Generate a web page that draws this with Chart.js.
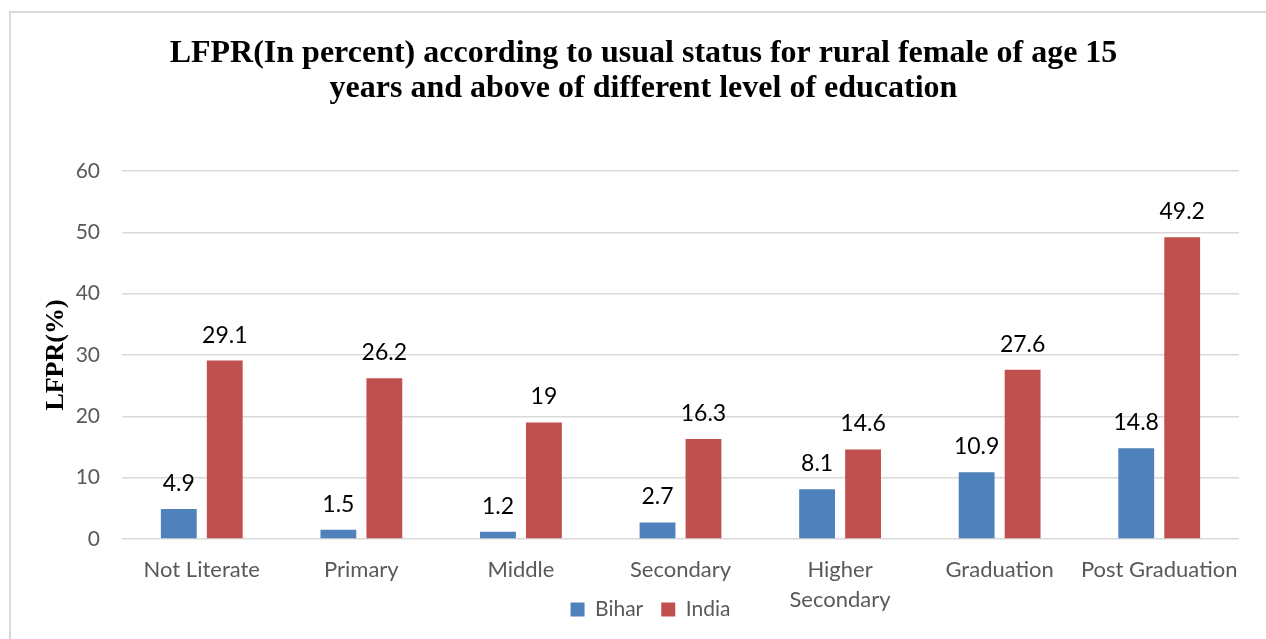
<!DOCTYPE html>
<html>
<head>
<meta charset="utf-8">
<script src="https://cdn.jsdelivr.net/npm/chart.js@4.4.1/dist/chart.umd.min.js"></script>
<style>
  html, body { margin: 0; padding: 0; background: #fff; }
  #wrap { position: relative; width: 1266px; height: 639px; }
</style>
</head>
<body>
<div id="wrap"><canvas id="c" width="1266" height="639"></canvas></div>
<script>
// Education levels and LFPR values (%)
const categories = ['Not Literate', 'Primary', 'Middle', 'Secondary', ['Higher', 'Secondary'], 'Graduation', 'Post Graduation'];
const bihar = [4.9, 1.5, 1.2, 2.7, 8.1, 10.9, 14.8];
const india = [29.1, 26.2, 19, 16.3, 14.6, 27.6, 49.2];
const yTicks = [0, 10, 20, 30, 40, 50, 60];

const SANS = 'Lato, "Noto Sans", sans-serif';
const SERIF = '"Liberation Serif", "Times New Roman", serif';

// Outer frame of the chart
const framePlugin = {
  id: 'frame',
  beforeDraw(chart) {
    const ctx = chart.ctx;
    ctx.save();
    ctx.fillStyle = '#fff';
    ctx.fillRect(0, 0, chart.width, chart.height);
    ctx.strokeStyle = '#d9d9d9';
    ctx.lineWidth = 2;
    ctx.strokeRect(10, 12, chart.width + 20, chart.height + 20);
    ctx.restore();
  }
};

// Let the category labels use the full height below the plot and
// tuck the legend up beside the second label line
const layoutTweak = {
  id: 'layoutTweak',
  afterLayout(chart) {
    const x = chart.scales.x;
    x.bottom = chart.height;
    x.height = x.bottom - x.top;
    const lg = chart.legend;
    const h = lg.height;
    lg.top = 581;
    lg.bottom = lg.top + h;
    lg.left += 7;
    lg.right += 7;
  }
};

// Value labels above each bar
const valueLabels = {
  id: 'valueLabels',
  afterDatasetsDraw(chart) {
    const ctx = chart.ctx;
    ctx.save();
    ctx.font = '23px ' + SANS;
    ctx.fillStyle = '#000';
    ctx.textAlign = 'center';
    ctx.textBaseline = 'alphabetic';
    chart.data.datasets.forEach((ds, i) => {
      chart.getDatasetMeta(i).data.forEach((bar, j) => {
        ctx.fillText(String(ds.data[j]), bar.x, bar.y - 18);
      });
    });
    ctx.restore();
  }
};

new Chart(document.getElementById('c'), {
  type: 'bar',
  data: {
    labels: categories,
    datasets: [
      { label: 'Bihar', data: bihar, backgroundColor: '#4F81BD', categoryPercentage: 0.576, barPercentage: 0.78 },
      { label: 'India', data: india, backgroundColor: '#C0504D', categoryPercentage: 0.576, barPercentage: 0.78 }
    ]
  },
  options: {
    responsive: false,
    animation: false,
    devicePixelRatio: 1,
    layout: { padding: { left: 24, right: 3, top: 0, bottom: 0 } },
    plugins: {
      title: {
        display: true,
        text: ['LFPR(In percent) according to usual status for rural female of age 15',
               'years and above of different level of education'],
        color: '#000',
        font: { family: SERIF, size: 32, weight: 'bold', lineHeight: 1.11 },
        padding: { top: 35.6, bottom: 64.4 }
      },
      legend: {
        position: 'bottom',
        labels: {
          boxWidth: 14, boxHeight: 14, padding: 18,
          color: '#595959',
          font: { family: SANS, size: 21 }
        }
      },
      tooltip: { enabled: false }
    },
    scales: {
      x: {
        grid: { display: false, drawTicks: false },
        border: { display: false },
        ticks: {
          color: '#595959',
          font: { family: SANS, size: 22, lineHeight: 1.36 },
          padding: 16,
          maxRotation: 0,
          autoSkip: false
        },
        afterFit(scale) { scale.height = 51; }
      },
      y: {
        min: 0, max: 60,
        afterBuildTicks(scale) { scale.ticks = yTicks.map(v => ({ value: v })); },
        grid: { color: '#d9d9d9', lineWidth: 1.5, drawTicks: false },
        border: { display: false },
        ticks: {
          color: '#595959',
          font: { family: SANS, size: 21 },
          padding: 22
        },
        title: {
          display: true,
          text: 'LFPR(%)',
          color: '#000',
          font: { family: SERIF, size: 26, weight: 'bold', lineHeight: 1.2 },
          padding: { top: 17, bottom: 0 }
        },
        afterFit(scale) { scale.width = 98; }
      },
      // empty right-hand gutter so the title and legend centre like the frame
      gutter: {
        type: 'linear',
        position: 'right',
        display: true,
        grid: { display: false, drawTicks: false },
        border: { display: false },
        ticks: { display: false },
        afterFit(scale) { scale.width = 24; }
      }
    }
  },
  plugins: [framePlugin, layoutTweak, valueLabels]
});
</script>
</body>
</html>
